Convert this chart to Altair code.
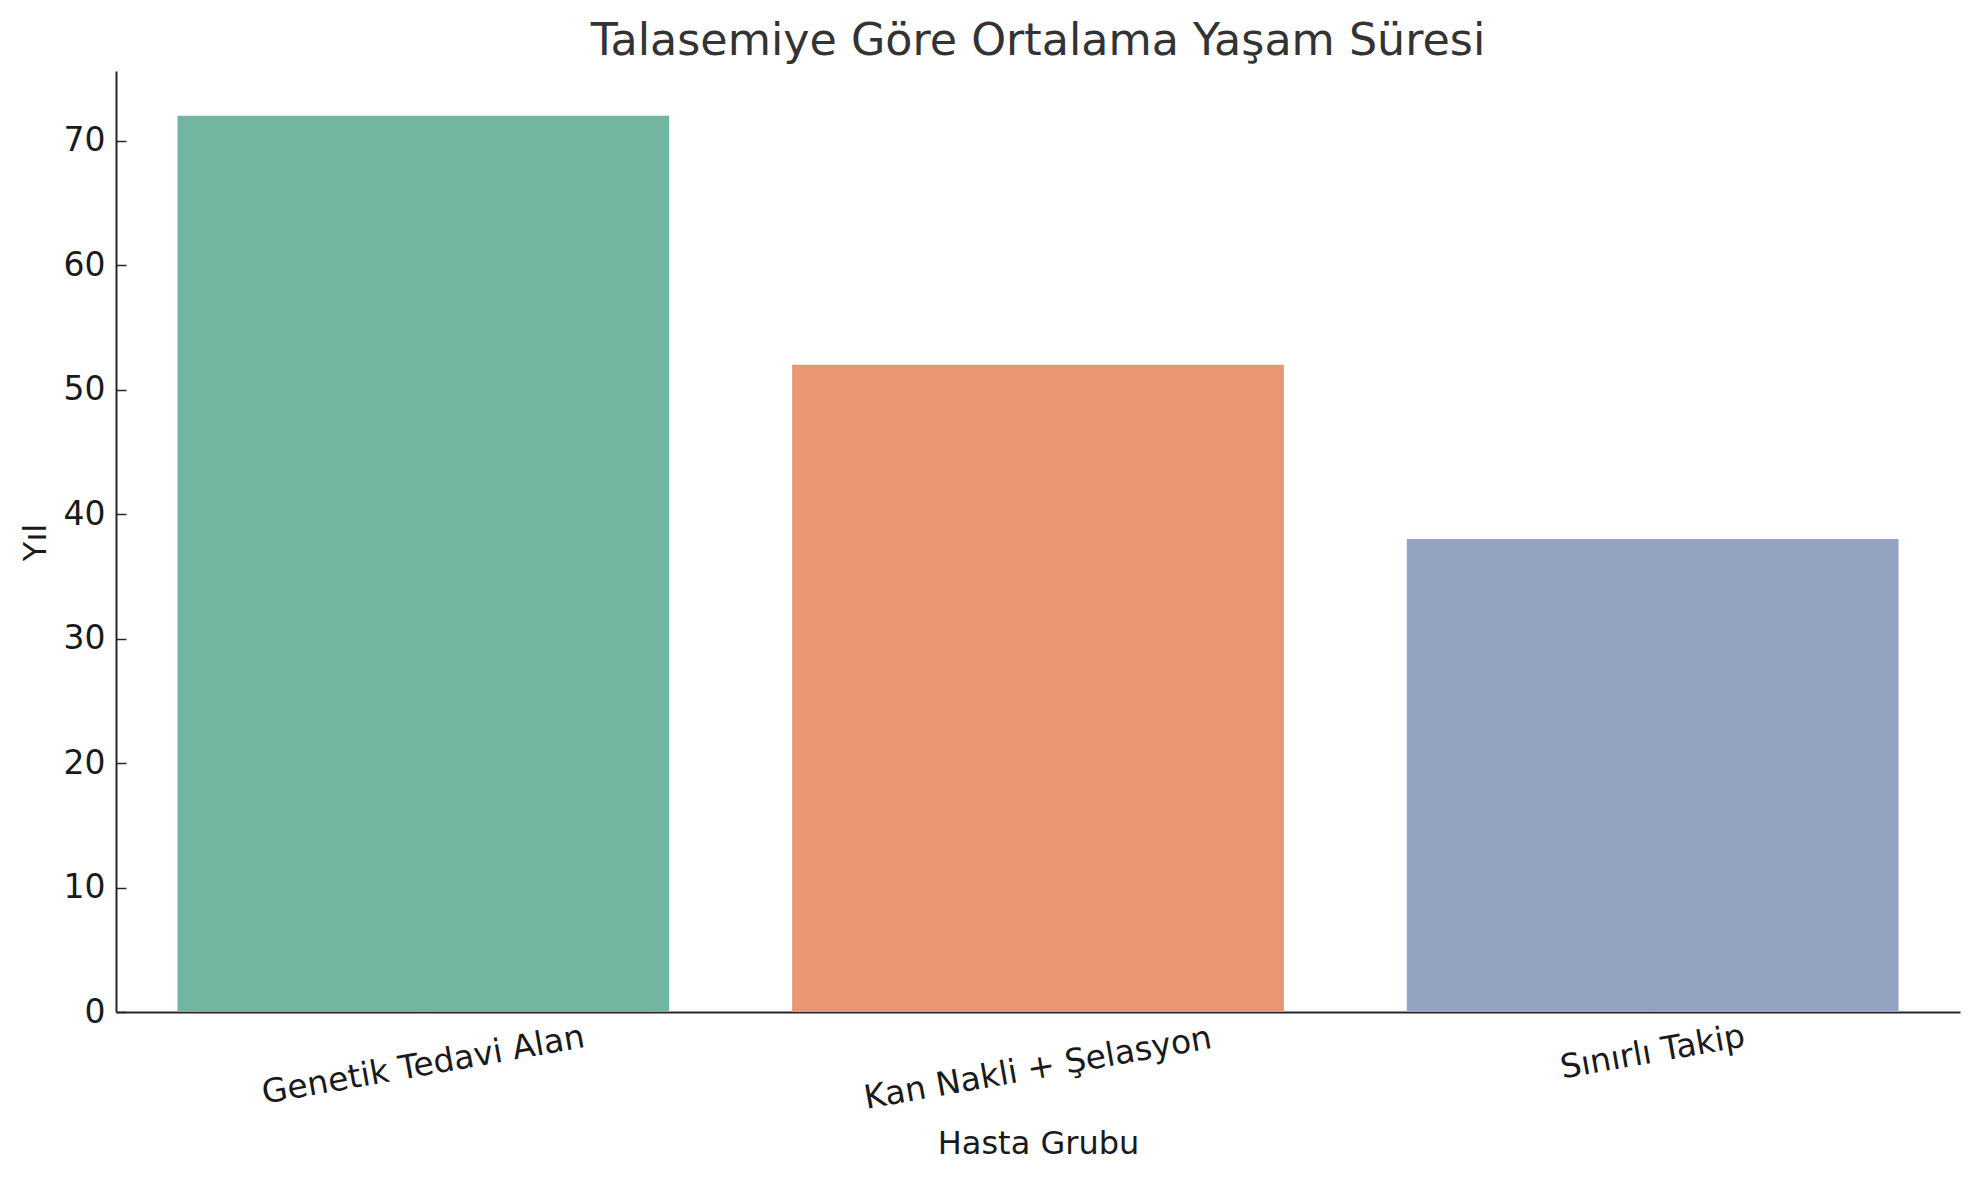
import altair as alt
import pandas as pd

groups = ["Genetik Tedavi Alan", "Kan Nakli + Şelasyon", "Sınırlı Takip"]
years = [72, 52, 38]
bar_colors = ["#72b6a1", "#e99675", "#95a3c3"]
y_ticks = [0, 10, 20, 30, 40, 50, 60, 70]

df = pd.DataFrame({"Hasta Grubu": groups, "Yıl": years})

FONT = "DejaVu Sans"
W, H = 1844, 941

x_scale = alt.Scale(domain=groups, paddingInner=0.2, paddingOuter=0.1)
y_scale = alt.Scale(domain=[0, 75.6], nice=False, zero=True)

# matplotlib aligns the tops of rotated label boxes; emulate per label
label_pad = {
    "condition": [
        {"test": "datum.label == 'Sınırlı Takip'", "value": 40},
        {"test": "datum.label == 'Genetik Tedavi Alan'", "value": 53},
    ],
    "value": 56,
}

bars = alt.Chart(df).mark_bar().encode(
    x=alt.X("Hasta Grubu:N", scale=x_scale, sort=groups,
            axis=alt.Axis(title="Hasta Grubu", orient="bottom", labelAngle=350,
                          labelAlign="center", labelBaseline="middle",
                          labelPadding=label_pad, ticks=False, tickSize=0, labelLimit=0,
                          domainColor="#262626", domainWidth=2,
                          labelFont=FONT, labelFontSize=33, labelColor="#1a1a1a",
                          titleFont=FONT, titleFontSize=32, titleFontWeight="normal",
                          titleColor="#1a1a1a", titleX=W / 2, titleY=141,
                          titleBaseline="alphabetic", titleAlign="center",
                          labelOverlap=False, grid=False)),
    y=alt.Y("Yıl:Q", scale=y_scale,
            axis=alt.Axis(title="Yıl", orient="left", values=y_ticks,
                          ticks=False, tickSize=0, labelPadding=11,
                          domainColor="#262626", domainWidth=2,
                          labelFont=FONT, labelFontSize=33, labelColor="#1a1a1a",
                          titleFont=FONT, titleFontSize=32, titleFontWeight="normal",
                          titleColor="#1a1a1a", titleAngle=270, titleX=-71,
                          titleY=471, titleBaseline="alphabetic", titleAlign="center",
                          grid=False)),
    color=alt.Color("Hasta Grubu:N", scale=alt.Scale(domain=groups, range=bar_colors),
                    legend=None),
)

ticks_layer = alt.Chart(df).mark_bar(opacity=0).encode(
    x=alt.X("Hasta Grubu:N", scale=x_scale, sort=groups,
            axis=alt.Axis(title=None, orient="bottom", offset=-10, tickSize=10,
                          tickWidth=1.5, tickColor="#262626", labels=False,
                          domain=False, grid=False)),
    y=alt.Y("Yıl:Q", scale=y_scale,
            axis=alt.Axis(title=None, orient="left", offset=-10, tickSize=10,
                          tickWidth=1.5, tickColor="#262626", labels=False,
                          values=y_ticks, domain=False, grid=False)),
)

chart = alt.layer(bars, ticks_layer).resolve_axis(
    x="independent", y="independent"
).properties(
    width=W,
    height=H,
    autosize=alt.AutoSizeParams(type="none"),
    padding={"left": 108, "top": 63, "right": 10, "bottom": 160},
    title=alt.TitleParams(
        "Talasemiye Göre Ortalama Yaşam Süresi",
        font=FONT, fontSize=44.4, fontWeight="normal", color="#333333",
        anchor="middle", frame="group", baseline="alphabetic", offset=16, dy=44,
    ),
).configure_view(stroke=None)

chart.save("out.html", embed_options={"renderer": "svg", "actions": False})
